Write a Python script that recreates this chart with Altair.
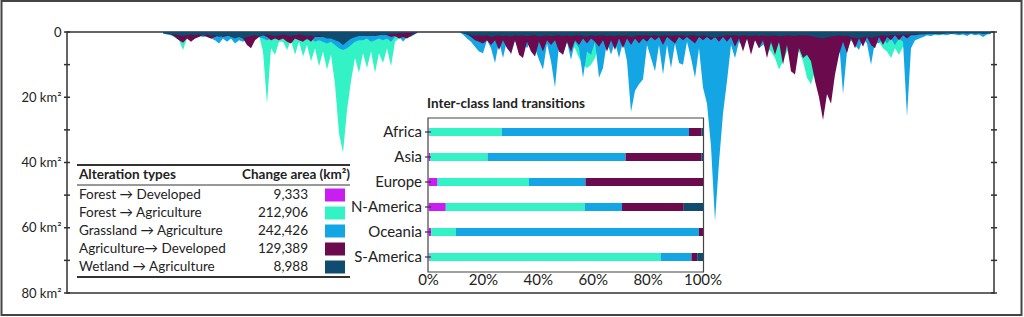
import altair as alt
import pandas as pd

FONT = "Lato"
TXT = "#222222"

# ---------------- main profile (one value per 4-px step along the profile) ----------------
first_index = 24
forest_agri = [
    0.3, 0.6, 1.0, 1.8, 2.5, 5.5, 2.0, 1.2, 2.0, 1.0,
    1.5, 0.8, 1.2, 2.0, 1.0, 1.5, 0.8, 1.2, 2.0, 1.0,
    1.5, 1.0, 1.2, 2.0, 1.0, 6.0, 22.0, 5.0, 7.0, 3.0,
    3.0, 5.5, 2.5, 7.0, 3.0, 7.5, 4.0, 9.0, 5.0, 10.5,
    6.0, 11.5, 7.0, 16.0, 31.0, 37.0, 24.0, 15.0, 8.0, 12.5,
    6.5, 11.0, 6.0, 12.5, 6.5, 9.5, 5.0, 10.5, 3.0, 2.0,
    2.5, 1.5, 1.5, 0.8, 0, 0, 0, 0, 0, 0,
    0, 0, 0, 0, 0, 0.3, 0.6, 1.0, 1.5, 2.0,
    1.5, 2.0, 1.5, 2.5, 2.0, 3.0, 2.0, 2.5, 3.0, 2.0,
    2.5, 3.0, 2.5, 3.5, 3.0, 2.5, 3.0, 4.0, 3.0, 3.5,
    3.0, 3.5, 4.0, 5.0, 8.0, 10.0, 11.0, 10.0, 8.0, 4.0,
    3.0, 2.5, 3.0, 2.0, 2.5, 2.0, 2.5, 2.0, 3.0, 2.0,
    2.0, 2.5, 2.0, 2.0, 2.5, 2.0, 1.5, 2.0, 1.5, 2.0,
    1.5, 2.0, 1.5, 2.0, 1.5, 2.0, 2.5, 2.0, 1.5, 2.0,
    2.0, 1.5, 2.0, 2.5, 2.0, 3.0, 2.5, 3.0, 2.5, 3.5,
    4.0, 5.0, 6.0, 8.0, 11.5, 9.0, 6.0, 5.0, 7.0, 6.0,
    9.0, 14.0, 16.0, 12.0, 6.0, 4.0, 3.0, 3.0, 2.5, 2.0,
    2.0, 3.0, 2.5, 3.0, 4.0, 3.0, 2.5, 3.0, 4.0, 3.0,
    5.0, 6.0, 8.0, 5.0, 7.0, 4.5, 6.0, 3.0, 2.5, 2.0,
    1.5, 1.0, 1.2, 0.8, 1.0, 0.6, 0.8, 0.5, 0.6, 0.4,
    0.5, 0.3, 0.6, 0.4, 0.3, 0.5, 0.3, 0.2,
]
grass_agri = [
    0.5, 0.8, 1.0, 1.2, 1.0, 1.5, 1.0, 1.2, 1.5, 1.0,
    1.5, 1.2, 2.0, 2.5, 3.5, 2.0, 3.0, 2.0, 3.5, 2.5,
    3.0, 2.0, 2.5, 2.0, 1.5, 2.0, 2.5, 2.0, 1.5, 1.5,
    1.5, 2.0, 1.5, 2.0, 2.5, 2.0, 2.5, 2.0, 3.0, 2.5,
    3.0, 3.5, 3.0, 4.0, 5.0, 5.5, 5.0, 4.0, 3.0, 2.5,
    2.5, 2.0, 3.0, 2.5, 2.0, 2.5, 2.0, 3.0, 1.5, 1.0,
    3.0, 1.5, 1.0, 0.5, 0, 0, 0, 0, 0, 0,
    0, 0, 0, 0, 0, 0.8, 2.0, 3.0, 4.5, 6.0,
    6.5, 2.5, 5.0, 9.5, 3.0, 8.0, 2.5, 7.0, 2.5, 6.0,
    3.0, 5.0, 2.5, 5.0, 8.5, 11.5, 3.5, 9.0, 17.0, 4.0,
    7.0, 3.0, 8.5, 3.0, 5.0, 14.0, 6.0, 7.0, 3.0, 14.0,
    11.0, 3.0, 7.0, 3.0, 8.0, 3.0, 9.0, 24.5, 18.0, 16.0,
    14.5, 4.0, 8.0, 12.0, 4.0, 13.0, 4.0, 11.0, 3.5, 9.5,
    10.0, 3.0, 8.0, 14.0, 5.0, 17.0, 22.0, 35.0, 58.0, 40.0,
    25.0, 15.0, 4.0, 8.0, 3.0, 4.5, 2.0, 4.0, 2.0, 5.0,
    4.0, 2.0, 4.0, 2.0, 3.5, 4.0, 2.0, 3.5, 4.0, 2.0,
    4.0, 2.5, 4.0, 2.0, 3.5, 4.0, 2.0, 3.5, 5.0, 2.5,
    19.0, 6.0, 2.5, 4.0, 5.5, 2.0, 3.5, 10.0, 3.0, 3.5,
    2.0, 3.5, 2.0, 4.0, 2.0, 3.0, 26.0, 5.0, 2.5, 2.0,
    1.5, 1.0, 1.2, 0.8, 1.0, 0.8, 1.0, 0.6, 0.8, 1.0,
    0.8, 1.2, 0.6, 1.0, 0.8, 1.5, 0.8, 0.6,
]
agri_dev = [
    0.3, 0.5, 0.8, 1.5, 2.5, 3.3, 2.0, 3.0, 2.0, 1.5,
    1.0, 1.5, 2.0, 1.5, 1.0, 1.5, 1.2, 1.0, 1.5, 1.2,
    2.0, 4.0, 5.0, 2.5, 1.5, 1.0, 1.5, 2.5, 2.0, 2.5,
    2.0, 3.0, 3.5, 2.0, 2.5, 3.0, 2.0, 3.0, 1.5, 1.5,
    1.5, 1.2, 1.0, 1.5, 1.5, 1.5, 2.0, 2.0, 1.5, 1.0,
    1.0, 1.2, 1.0, 1.2, 1.0, 0.8, 1.0, 1.5, 1.2, 2.0,
    1.5, 2.0, 1.2, 0.5, 0, 0, 0, 0, 0, 0,
    0, 0, 0, 0, 0, 0.3, 0.8, 1.5, 2.5, 3.0,
    3.5, 2.5, 4.0, 2.5, 5.5, 2.5, 5.0, 6.5, 2.5, 7.0,
    8.0, 3.0, 6.0, 7.5, 3.0, 6.0, 2.5, 4.0, 2.5, 6.0,
    7.0, 3.0, 6.0, 2.5, 4.0, 2.0, 3.5, 2.0, 3.0, 4.5,
    2.5, 6.0, 2.5, 5.5, 2.0, 5.0, 2.0, 4.0, 2.0, 3.5,
    2.0, 3.0, 1.5, 2.5, 1.5, 4.0, 1.5, 2.5, 3.5, 1.5,
    2.5, 1.5, 2.5, 3.5, 1.5, 2.5, 1.5, 2.5, 1.5, 3.0,
    1.5, 3.0, 1.5, 4.5, 2.0, 6.0, 2.0, 7.0, 2.5, 5.0,
    2.5, 8.0, 3.0, 7.0, 3.0, 10.0, 4.0, 12.0, 13.0, 5.0,
    8.0, 7.0, 9.0, 15.0, 20.0, 27.0, 19.0, 22.0, 13.0, 7.0,
    3.0, 6.5, 2.0, 5.0, 2.0, 4.5, 1.5, 4.0, 5.0, 1.5,
    4.0, 1.5, 2.5, 1.0, 2.5, 1.0, 2.0, 1.0, 1.0, 0.8,
    0.8, 0.6, 0.5, 0.6, 0.4, 0.5, 0.3, 0.4, 0.3, 0.3,
    0.2, 0.3, 0.2, 0.3, 0.2, 0.2, 0.3, 0.2,
]
wetland_agri = [
    0.3, 0.5, 0.6, 0.8, 1.0, 1.2, 1.0, 0.8, 1.0, 0.8,
    1.0, 0.8, 1.2, 1.0, 1.5, 1.2, 1.0, 1.5, 2.0, 1.5,
    2.0, 1.5, 1.2, 1.0, 1.2, 1.0, 0.8, 1.0, 1.2, 1.0,
    0.8, 1.0, 1.2, 1.0, 0.8, 1.0, 1.2, 1.0, 1.5, 1.0,
    1.5, 2.0, 2.0, 2.5, 3.0, 4.0, 3.0, 2.0, 1.5, 1.2,
    1.2, 1.0, 1.2, 1.0, 0.8, 1.0, 0.8, 0.6, 0.5, 0.4,
    0.4, 0.3, 0.3, 0.2, 0, 0, 0, 0, 0, 0,
    0, 0, 0, 0, 0, 0.4, 0.8, 1.0, 1.2, 1.0,
    1.2, 1.0, 1.5, 1.2, 1.0, 1.3, 1.1, 1.4, 1.0, 1.2,
    1.0, 1.3, 1.1, 1.0, 1.4, 1.2, 1.0, 1.3, 1.1, 1.0,
    1.2, 1.0, 1.3, 1.1, 1.0, 1.2, 1.4, 1.0, 1.2, 1.1,
    1.0, 1.2, 1.1, 1.3, 1.0, 1.2, 1.0, 1.5, 1.2, 1.0,
    1.1, 1.0, 1.2, 1.0, 1.3, 1.1, 1.0, 1.2, 1.0, 1.1,
    1.0, 1.2, 1.0, 1.1, 1.3, 1.0, 1.2, 1.5, 1.8, 1.4,
    1.2, 1.0, 1.1, 1.0, 1.2, 1.0, 1.1, 1.3, 1.0, 1.2,
    1.0, 1.2, 1.1, 1.0, 1.3, 1.2, 1.0, 1.1, 1.2, 1.0,
    1.1, 1.0, 1.2, 1.5, 1.8, 2.0, 1.6, 1.4, 1.2, 1.0,
    1.3, 1.1, 1.5, 1.8, 2.0, 1.6, 1.4, 1.8, 1.5, 1.2,
    1.0, 1.2, 1.0, 0.9, 1.0, 0.8, 0.9, 0.7, 0.8, 0.6,
    0.6, 0.5, 0.6, 0.5, 0.6, 0.5, 0.4, 0.5, 0.4, 0.5,
    0.4, 0.5, 0.4, 0.5, 0.4, 0.6, 0.5, 0.4,
]
axis_ticks = [0, 10, 20, 30, 40, 50, 60, 70, 80]
axis_labels = [0, 20, 40, 60, 80]

# ---------------- legend table ----------------
series_names = ["Forest \u2192 Developed", "Forest \u2192 Agriculture", "Grassland \u2192 Agriculture",
                "Agriculture\u2192 Developed", "Wetland \u2192 Agriculture"]
change_area = ["9,333", "212,906", "242,426", "129,389", "8,988"]
colors = ["#C81EF0", "#33F2C6", "#14A6E4", "#6B0A4C", "#0F4C70"]

# ---------------- inset: inter-class land transitions (%) ----------------
regions = ["Africa", "Asia", "Europe", "N-America", "Oceania", "S-America"]
share_forest_dev = [0.3, 0.6, 3.3, 6.3, 1.0, 0.4]
share_forest_agri = [26.4, 20.9, 33.3, 50.7, 9.0, 84.2]
share_grass_agri = [68.2, 50.3, 20.6, 13.5, 88.5, 11.2]
share_agri_dev = [4.5, 27.6, 42.8, 22.5, 1.5, 2.1]
share_wet_agri = [0.6, 0.6, 0.0, 7.0, 0.0, 2.1]
pct_ticks = [0, 20, 40, 60, 80, 100]

W, H = 927, 261
one = pd.DataFrame({"a": [0]})

# ---------------- main chart ----------------
idx = list(range(first_index, first_index + len(forest_agri)))
x_main = alt.X("i:Q", scale=alt.Scale(domain=[0, 231.75], nice=False, zero=False), axis=None)
y_main = alt.Y(
    "v:Q",
    scale=alt.Scale(domain=[0, 80], reverse=True, nice=False),
    axis=alt.Axis(values=axis_labels,
                  labelExpr="datum.value == 0 ? '0' : datum.value + ' km\u00b2'",
                  ticks=False, domain=False, grid=False, labelFont=FONT, labelFontSize=13,
                  labelColor=TXT, labelPadding=6, title=None),
)

area_layers = []
for arr, col in [(forest_agri, colors[1]), (grass_agri, colors[2]),
                 (agri_dev, colors[3]), (wetland_agri, colors[4])]:
    df = pd.DataFrame({"i": idx, "v": arr})
    area_layers.append(
        alt.Chart(df).mark_area(color=col, opacity=1, interpolate="linear").encode(x=x_main, y=y_main)
    )

ticks_df = pd.DataFrame({"v": axis_ticks})
left_ticks = alt.Chart(ticks_df).mark_rule(color="#333", strokeWidth=1.5).encode(
    x=alt.value(-3), x2=alt.value(3), y=y_main)
right_ticks = alt.Chart(ticks_df).mark_rule(color="#333", strokeWidth=1.5).encode(
    x=alt.value(924), x2=alt.value(930), y=y_main)

main = alt.layer(*area_layers, left_ticks, right_ticks)

# ---------------- inset bar chart ----------------
rows = []
for r_i, reg in enumerate(regions):
    for k, arr in enumerate([share_forest_dev, share_forest_agri, share_grass_agri,
                             share_agri_dev, share_wet_agri]):
        rows.append({"region": reg, "series": series_names[k], "k": k, "pct": arr[r_i]})
bars_df = pd.DataFrame(rows)

x_scale_in = alt.Scale(domain=[0, 100], range=[361.5, 636], nice=False, zero=False)
y_in = alt.Y("region:N", scale=alt.Scale(domain=regions, range=[87.5, 237.5],
                                         paddingInner=0, paddingOuter=0), axis=None)
color_enc = alt.Color("series:N", scale=alt.Scale(domain=series_names, range=colors), legend=None)

box = alt.Chart(one).mark_rect(fill="white", stroke="#444", strokeWidth=1.2).encode(
    x=alt.value(361), x2=alt.value(636.5), y=alt.value(86), y2=alt.value(240))
bars = alt.Chart(bars_df).mark_bar(size=8).encode(
    x=alt.X("pct:Q", stack="zero", scale=x_scale_in, axis=None),
    y=y_in, color=color_enc, order=alt.Order("k:Q"))
ylabels = alt.Chart(pd.DataFrame({"region": regions})).mark_text(
    align="right", baseline="middle", font=FONT, fontSize=15, color=TXT).encode(
    x=alt.value(355), y=y_in, text="region:N")
yticks = alt.Chart(pd.DataFrame({"region": regions})).mark_rule(color="#333", strokeWidth=1.2).encode(
    x=alt.value(358), x2=alt.value(364), y=y_in)
xlabels = alt.Chart(pd.DataFrame({"pct": pct_ticks, "lab": [f"{p}%" for p in pct_ticks]})).mark_text(
    align="center", baseline="middle", font=FONT, fontSize=15, color=TXT).encode(
    x=alt.X("pct:Q", scale=x_scale_in, axis=None), y=alt.value(248), text="lab:N")
inset_title = alt.Chart(one).mark_text(
    text="Inter-class land transitions", align="left", baseline="middle", font=FONT,
    fontSize=13.5, fontWeight="bold", color=TXT).encode(x=alt.value(360), y=alt.value(72))

inset = alt.layer(box, bars, ylabels, yticks, xlabels, inset_title)

# ---------------- legend table ----------------
tab_df = pd.DataFrame({"series": series_names, "area": change_area})
y_tab = alt.Y("series:N", scale=alt.Scale(type="point", domain=series_names, range=[163, 235], padding=0),
              axis=None)
rule_top = alt.Chart(one).mark_rule(color="#333", strokeWidth=2).encode(
    x=alt.value(10), x2=alt.value(283), y=alt.value(133))
rule_mid = alt.Chart(one).mark_rule(color="#333", strokeWidth=1).encode(
    x=alt.value(10), x2=alt.value(283), y=alt.value(153))
rule_bot = alt.Chart(one).mark_rule(color="#333", strokeWidth=2).encode(
    x=alt.value(10), x2=alt.value(283), y=alt.value(245))
head_l = alt.Chart(one).mark_text(text="Alteration types", align="left", baseline="middle", font=FONT,
                                  fontSize=13.5, fontWeight="bold", color=TXT).encode(
    x=alt.value(12), y=alt.value(143))
head_r = alt.Chart(one).mark_text(text="Change area (km\u00b2)", align="right", baseline="middle", font=FONT,
                                  fontSize=13.5, fontWeight="bold", color=TXT).encode(
    x=alt.value(283), y=alt.value(143))
names = alt.Chart(tab_df).mark_text(align="left", baseline="middle", font=FONT, fontSize=13.5,
                                    color=TXT).encode(x=alt.value(12), y=y_tab, text="series:N")
values = alt.Chart(tab_df).mark_text(align="right", baseline="middle", font=FONT, fontSize=13.5,
                                     color=TXT).encode(x=alt.value(241), y=y_tab, text="area:N")
swatch = alt.Chart(tab_df).mark_tick(orient="horizontal", size=20, thickness=13, opacity=1).encode(
    x=alt.value(268), y=y_tab, color=color_enc)
frame = alt.Chart(one).mark_rect(fill="white", fillOpacity=0, stroke="#444", strokeWidth=2).encode(
    x=alt.value(-65.5), x2=alt.value(954.5), y=alt.value(-31), y2=alt.value(283))

table = alt.layer(rule_top, rule_mid, rule_bot, head_l, head_r, names, values, swatch, frame)

chart = (
    alt.layer(main, inset, table)
    .resolve_scale(x="independent", y="independent")
    .properties(width=W, height=H, autosize="none",
                padding={"left": 67, "top": 32, "right": 30, "bottom": 24})
    .configure_view(stroke="#333", strokeWidth=1.5)
)

chart.save("out.html", embed_options={"renderer": "svg", "actions": False})
